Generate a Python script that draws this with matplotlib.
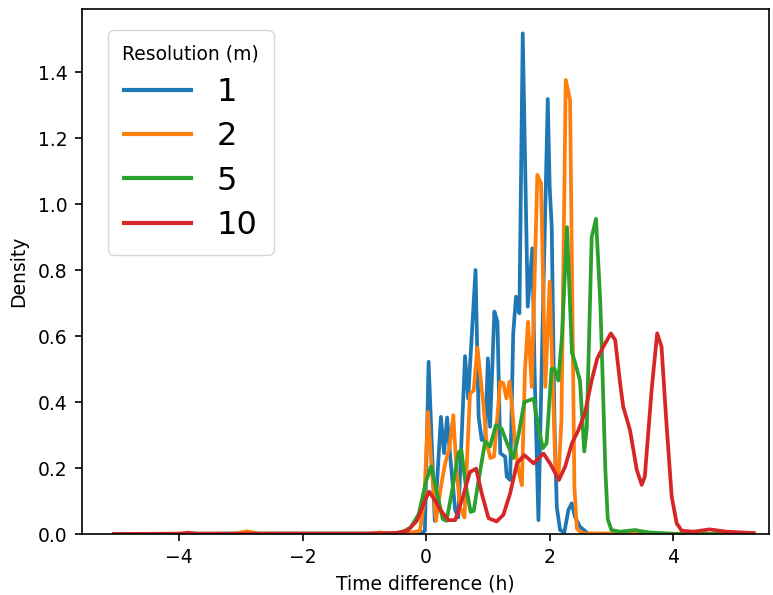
import numpy as np
import matplotlib
matplotlib.use("Agg")
import matplotlib.pyplot as plt

# densities, per resolution (m)
labels = ["1", "2", "5", "10"]
colors = ["#1f77b4", "#ff7f0e", "#2ca02c", "#d62728"]

x_1m = [-5.05, -3.0, -1.0, -0.1, -0.02, 0.04, 0.14, 0.24, 0.29, 0.34, 0.39, 0.47, 0.52,
        0.63, 0.68, 0.80, 0.85, 0.90, 0.955, 1.0, 1.035, 1.105, 1.155, 1.20, 1.28, 1.305,
        1.36, 1.41, 1.455, 1.51, 1.564, 1.645, 1.72, 1.755, 1.818, 1.87, 1.969, 2.0, 2.033,
        2.077, 2.115, 2.168, 2.237, 2.303, 2.357, 2.41, 2.49, 2.63, 4.0, 5.3]
y_1m = [0.0, 0.001, 0.001, 0.0, 0.01, 0.522, 0.04, 0.355, 0.245, 0.353, 0.234, 0.073, 0.05,
        0.539, 0.411, 0.80, 0.355, 0.285, 0.285, 0.532, 0.325, 0.674, 0.643, 0.245, 0.234, 0.174,
        0.164, 0.608, 0.719, 0.669, 1.517, 0.689, 0.866, 0.497, 0.042, 0.50, 1.318, 1.05, 0.931,
        0.345, 0.082, 0.012, 0.005, 0.073, 0.093, 0.052, 0.022, 0.0, 0.0, 0.0]

x_2m = [-5.05, -3.1, -2.9, -2.7, -0.9, -0.75, -0.6, -0.3, -0.1, -0.03, 0.03, 0.09, 0.16,
        0.25, 0.31, 0.38, 0.44, 0.49, 0.55, 0.62, 0.71, 0.77, 0.83, 0.93, 0.98, 1.04, 1.10,
        1.20, 1.25, 1.30, 1.35, 1.40, 1.45, 1.51, 1.55, 1.60, 1.65, 1.71, 1.80, 1.86, 1.93,
        2.0, 2.09, 2.14, 2.19, 2.26, 2.33, 2.37, 2.40, 2.44, 2.52, 3.5, 5.3]
y_2m = [0.0, 0.001, 0.008, 0.001, 0.001, 0.005, 0.001, 0.002, 0.01, 0.1, 0.37, 0.20, 0.04,
        0.155, 0.215, 0.265, 0.36, 0.20, 0.08, 0.05, 0.425, 0.435, 0.565, 0.386, 0.275, 0.23, 0.235,
        0.462, 0.457, 0.411, 0.462, 0.366, 0.25, 0.18, 0.148, 0.497, 0.643, 0.446, 1.088, 1.063, 0.446,
        0.765, 0.214, 0.164, 0.345, 1.376, 1.315, 0.648, 0.143, 0.017, 0.002, 0.001, 0.0]

x_5m = [-5.05, -2.0, -0.6, -0.4, -0.25, -0.12, 0.0, 0.08, 0.17, 0.27, 0.33, 0.42, 0.52,
        0.57, 0.64, 0.72, 0.77, 0.85, 0.955, 1.035, 1.13, 1.22, 1.30, 1.41, 1.49, 1.59, 1.74,
        1.82, 1.89, 1.95, 2.03, 2.08, 2.14, 2.20, 2.28, 2.36, 2.41, 2.49, 2.56, 2.60, 2.68,
        2.75, 2.82, 2.86, 2.90, 2.94, 3.0, 3.14, 3.38, 3.6, 4.06, 5.3]
y_5m = [0.0, 0.001, 0.001, 0.004, 0.02, 0.06, 0.16, 0.205, 0.13, 0.045, 0.04, 0.13, 0.245,
        0.255, 0.15, 0.067, 0.07, 0.164, 0.28, 0.265, 0.33, 0.32, 0.28, 0.23, 0.295, 0.40, 0.41,
        0.32, 0.26, 0.275, 0.50, 0.50, 0.465, 0.60, 0.93, 0.55, 0.52, 0.465, 0.25, 0.32, 0.90,
        0.955, 0.70, 0.457, 0.20, 0.045, 0.012, 0.007, 0.012, 0.005, 0.0, 0.0]

x_10m = [-5.05, -4.0, -3.85, -3.7, -1.0, -0.5, -0.3, -0.15, 0.0, 0.05, 0.15, 0.23, 0.36,
         0.47, 0.58, 0.71, 0.81, 0.90, 1.01, 1.14, 1.25, 1.36, 1.47, 1.59, 1.74, 1.90, 2.006,
         2.15, 2.25, 2.36, 2.465, 2.57, 2.68, 2.77, 2.87, 2.99, 3.06, 3.14, 3.19, 3.30, 3.41,
         3.49, 3.54, 3.65, 3.74, 3.81, 3.89, 3.975, 4.056, 4.137, 4.33, 4.59, 4.86, 5.3]
y_10m = [0.0, 0.001, 0.004, 0.001, 0.001, 0.003, 0.01, 0.04, 0.11, 0.128, 0.10, 0.073, 0.042,
         0.042, 0.103, 0.188, 0.198, 0.123, 0.048, 0.038, 0.058, 0.123, 0.214, 0.239, 0.214, 0.244, 0.214,
         0.164, 0.204, 0.275, 0.315, 0.366, 0.466, 0.532, 0.568, 0.608, 0.588, 0.457, 0.386, 0.315, 0.194,
         0.149, 0.174, 0.437, 0.608, 0.568, 0.336, 0.113, 0.032, 0.01, 0.007, 0.014, 0.007, 0.003]

series = [(x_1m, y_1m), (x_2m, y_2m), (x_5m, y_5m), (x_10m, y_10m)]

fig = plt.figure(figsize=(7.73, 5.95), dpi=100)
ax = fig.add_axes([82 / 773, 61 / 595, 687 / 773, 525 / 595])

for (xs, ys), lab, col in zip(series, labels, colors):
    ax.plot(xs, ys, color=col, lw=2.7, label=lab)

ax.set_xlim(-5.57, 5.55)
ax.set_ylim(0, 1.591)
ax.set_xticks([-4, -2, 0, 2, 4])
ax.set_yticks(np.arange(0, 1.41, 0.2))
ax.tick_params(labelsize=13.5, length=5.25, width=1.2, pad=5)
for s in ax.spines.values():
    s.set_linewidth(1.2)
ax.set_xlabel("Time difference (h)", fontsize=13.5, labelpad=5)
ax.set_ylabel("Density", fontsize=13.5, labelpad=7)

leg = ax.legend(title="Resolution (m)", fontsize=23, title_fontsize=13.5,
                loc="upper left", bbox_to_anchor=(0.038, 0.96), borderaxespad=0,
                labelspacing=0.42, handlelength=2.1, borderpad=0.45)
for line in leg.get_lines():
    line.set_linewidth(3)

fig.savefig("out.png", dpi=100)
